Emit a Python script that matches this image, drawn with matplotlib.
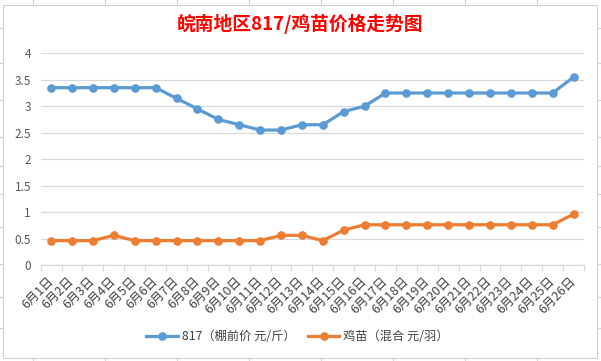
import matplotlib
matplotlib.use("Agg")
import matplotlib.pyplot as plt
from matplotlib.lines import Line2D
from matplotlib.patches import Rectangle
import numpy as np

plt.rcParams['font.family'] = ['Noto Sans CJK SC', 'DejaVu Sans']

title = "皖南地区817/鸡苗价格走势图"
days = [f"6月{i}日" for i in range(1, 27)]
price_817 = [3.35, 3.35, 3.35, 3.35, 3.35, 3.35, 3.15, 2.95, 2.75, 2.65, 2.55, 2.55, 2.65,
             2.65, 2.9, 3.0, 3.25, 3.25, 3.25, 3.25, 3.25, 3.25, 3.25, 3.25, 3.25, 3.55]
price_chick = [0.46, 0.46, 0.46, 0.56, 0.46, 0.46, 0.46, 0.46, 0.46, 0.46, 0.46, 0.56, 0.56,
               0.46, 0.66, 0.76, 0.76, 0.76, 0.76, 0.76, 0.76, 0.76, 0.76, 0.76, 0.76, 0.96]
label_817 = "817（棚前价 元/斤）"
label_chick = "鸡苗（混合 元/羽）"
yticks = [0, 0.5, 1, 1.5, 2, 2.5, 3, 3.5, 4]
ytick_labels = ["0", "0.5", "1", "1.5", "2", "2.5", "3", "3.5", "4"]

W, H = 601, 361
fig = plt.figure(figsize=(W / 100, H / 100), dpi=100)
fig.patch.set_facecolor("white")

# spreadsheet background lines outside chart area
sheet_col = "#d4d4d4"
for xc in [32.7, 104.7, 176.7, 248.7, 320.7, 392.7, 464.7, 536.7]:
    fig.add_artist(Line2D([xc / W, xc / W], [1, 1 - 4 / H], color=sheet_col, lw=0.8))
    fig.add_artist(Line2D([xc / W, xc / W], [0, 3 / H], color=sheet_col, lw=0.8))
for yr in [27.7, 63, 100, 137, 166, 194, 227, 264, 297, 328]:
    fig.add_artist(Line2D([0, 3 / W], [1 - yr / H, 1 - yr / H], color=sheet_col, lw=0.8))
    fig.add_artist(Line2D([1 - 4 / W, 1], [1 - yr / H, 1 - yr / H], color=sheet_col, lw=0.8))
# chart border
fig.add_artist(Rectangle((3 / W, 3 / H), (597 - 3) / W, (357 - 4) / H, fill=False,
                         edgecolor="#d0d0d0", lw=0.8, transform=fig.transFigure))

left, right = 40.7, 584
top, bottom = 53.3, 265
ax = fig.add_axes([left / W, 1 - bottom / H, (right - left) / W, (bottom - top) / H])

x = np.arange(len(days))
blue = "#5B9BD5"
orange = "#ED7D31"
ax.plot(x, price_817, color=blue, lw=2.3, marker="o", markersize=5.2, label=label_817,
        solid_joinstyle="round", zorder=3)
ax.plot(x, price_chick, color=orange, lw=2.3, marker="o", markersize=5.2, label=label_chick,
        solid_joinstyle="round", zorder=3)

ax.set_xlim(-0.5, len(days) - 0.5)
ax.set_ylim(0, 4)
ax.set_yticks(yticks)
ax.set_yticklabels(ytick_labels, color="#595959", fontsize=8.5)
ax.yaxis.grid(True, color="#d9d9d9", lw=0.9)
ax.set_axisbelow(True)
ax.tick_params(axis="y", length=0, pad=7)

# category boundary ticks
ax.set_xticks(np.arange(-0.5, len(days), 1.0), minor=True)
ax.set_xticks(x)
ax.set_xticklabels(days, rotation=45, ha="right", va="center", rotation_mode="anchor",
                   color="#404040", fontsize=9)
ax.tick_params(axis="x", which="major", length=0, pad=10)
ax.tick_params(axis="x", which="minor", length=4, color="#d9d9d9", width=0.9)

for s in ["top", "right", "left"]:
    ax.spines[s].set_visible(False)
ax.spines["bottom"].set_color("#d9d9d9")
ax.spines["bottom"].set_linewidth(0.9)

fig.text(0.5, 1 - 23.5 / H, title, ha="center", va="center", color="#FF0000",
         fontsize=13.5, fontweight="bold")

fig.legend(loc="center", bbox_to_anchor=(297.5 / W, 1 - 337 / H), ncol=2, frameon=False,
           fontsize=8.8, handlelength=2.6, columnspacing=1.0, handletextpad=0.3,
           labelcolor="#404040")

fig.savefig("out.png", dpi=100)
